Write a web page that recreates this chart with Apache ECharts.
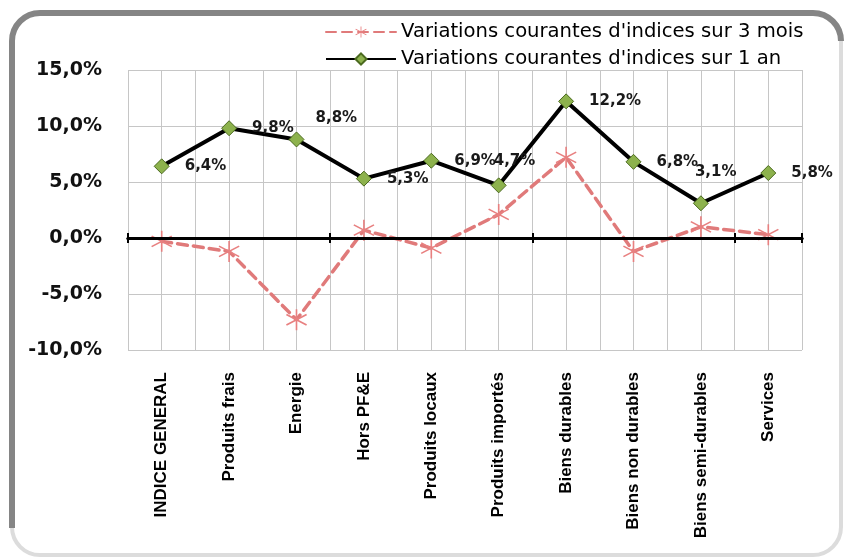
<!DOCTYPE html>
<html>
<head>
<meta charset="utf-8">
<script src="https://cdn.jsdelivr.net/npm/echarts@6/dist/echarts.min.js"></script>
<style>
html, body { margin: 0; padding: 0; background: #fff; }
#chart { width: 846px; height: 560px; }
</style>
</head>
<body>
<div id="chart"></div>
<script>
// categories + values
const categories = [
	"INDICE GENERAL", "Produits frais", "Energie", "Hors PF&E", "Produits locaux",
	"Produits importés", "Biens durables", "Biens non durables", "Biens semi-durables", "Services",
];
const var3Mois = [-0.3, -1.2, -7.3, 0.7, -0.9, 2.1, 7.2, -1.2, 1.0, 0.3];
const var1An = [6.4, 9.8, 8.8, 5.3, 6.9, 4.7, 12.2, 6.8, 3.1, 5.8];
const yTicks = [-10, -5, 0, 5, 10, 15];
const seriesNames = [
	"Variations courantes d'indices sur 3 mois",
	"Variations courantes d'indices sur 1 an",
];

const fmt = (v) => v.toFixed(1).replace(".", ",") + "%";

// a few labels sit above the point in the original
const labelNudge = { 2: [-4, -21], 5: [-28, -24], 8: [-29, -31] };

// six-spoke asterisk for the 3 mois series
const asterisk =
	"path://M9.3 0L10.7 0L10.7 20L9.3 20Z" +
	"M0.99 5.61L1.69 4.39L19.01 14.39L18.31 15.61Z" +
	"M0.99 14.39L18.31 4.39L19.01 5.61L1.69 15.61Z";

const halfSlots = categories.flatMap((c, i) => [i + "a", i + "b"]);

const chart = echarts.init(document.getElementById("chart"), null, { renderer: "canvas" });

const zeroAxis = (position, yIdx) => ({
	type: "category",
	data: categories,
	position: position,
	axisLine: { onZero: true, onZeroAxisIndex: yIdx, lineStyle: { color: "#000", width: 3 } },
	axisTick: { show: true, length: 5, lineStyle: { color: "#000", width: 2 } },
	axisLabel: { show: false },
	splitLine: { show: false },
	z: 5,
});

const frameDark = { fill: "none", stroke: "#858585", lineWidth: 6 };

const option = {
	animation: false,
	backgroundColor: "#fff",
	grid: { left: 128, right: 44, top: 70, bottom: 210 },
	legend: {
		orient: "vertical",
		left: 320,
		top: 17,
		itemWidth: 70,
		itemHeight: 14,
		itemGap: 7,
		textStyle: { fontFamily: "DejaVu Sans", fontSize: 19.6, color: "#000" },
		data: seriesNames,
	},
	xAxis: [
		{
			type: "category",
			data: categories,
			axisLine: { show: false, onZero: false },
			axisTick: { show: false },
			splitLine: { show: false },
			axisLabel: {
				interval: 0,
				rotate: 90,
				margin: 22,
				fontFamily: "Liberation Sans",
				fontWeight: "bold",
				fontSize: 17,
				color: "#000",
			},
		},
		{
			type: "category",
			data: halfSlots,
			position: "top",
			axisLine: { show: false, onZero: false },
			axisTick: { show: false },
			axisLabel: { show: false },
			splitLine: { show: true, interval: 0, lineStyle: { color: "#c6c6c6", width: 1 } },
		},
		zeroAxis("bottom", 0),
		zeroAxis("top", 1),
	],
	yAxis: [
		{
			type: "value",
			min: yTicks[0],
			max: yTicks[yTicks.length - 1],
			interval: 5,
			axisLine: { show: false },
			axisTick: { show: false },
			splitLine: { show: true, lineStyle: { color: "#c6c6c6", width: 1 } },
			axisLabel: {
				margin: 26,
				formatter: fmt,
				fontFamily: "DejaVu Sans",
				fontWeight: "bold",
				fontSize: 19,
				color: "#111",
			},
		},
		{
			type: "value",
			min: yTicks[0],
			max: yTicks[yTicks.length - 1],
			show: false,
		},
	],
	series: [
		{
			name: seriesNames[0],
			type: "line",
			data: var3Mois,
			symbol: asterisk,
			symbolSize: 21,
			showAllSymbol: true,
			lineStyle: { color: "#e07a7a", width: 3.5, type: [10, 6], cap: "round" },
			itemStyle: { color: "#e88080" },
			z: 3,
		},
		{
			name: seriesNames[1],
			type: "line",
			data: var1An.map((v, i) =>
				labelNudge[i] ? { value: v, label: { offset: labelNudge[i] } } : v
			),
			symbol: "diamond",
			symbolSize: 15,
			lineStyle: { color: "#000", width: 4 },
			itemStyle: { color: "#8db24d", borderColor: "#4b6a1f", borderWidth: 1 },
			label: {
				show: true,
				position: "right",
				distance: 15,
				formatter: (p) => fmt(p.value),
				fontFamily: "DejaVu Sans",
				fontWeight: "bold",
				fontSize: 15,
				color: "#1a1a1a",
			},
			z: 6,
		},
	],
	graphic: [
		{
			type: "rect",
			shape: { x: 12, y: 13, width: 829, height: 542, r: 28 },
			style: { fill: "none", stroke: "#dcdcdc", lineWidth: 4 },
			silent: true,
			z: -1,
		},
		{ type: "polyline", shape: { points: [[12, 528], [12, 41]] }, style: frameDark, silent: true, z: -1 },
		{ type: "polyline", shape: { points: [[40, 13], [813, 13]] }, style: frameDark, silent: true, z: -1 },
		{
			type: "arc",
			shape: { cx: 40, cy: 41, r: 28, startAngle: Math.PI, endAngle: Math.PI * 1.5 },
			style: frameDark, silent: true, z: -1,
		},
		{
			type: "arc",
			shape: { cx: 813, cy: 41, r: 28, startAngle: Math.PI * 1.5, endAngle: Math.PI * 2 },
			style: frameDark, silent: true, z: -1,
		},
	],
};

chart.setOption(option);
</script>
</body>
</html>
